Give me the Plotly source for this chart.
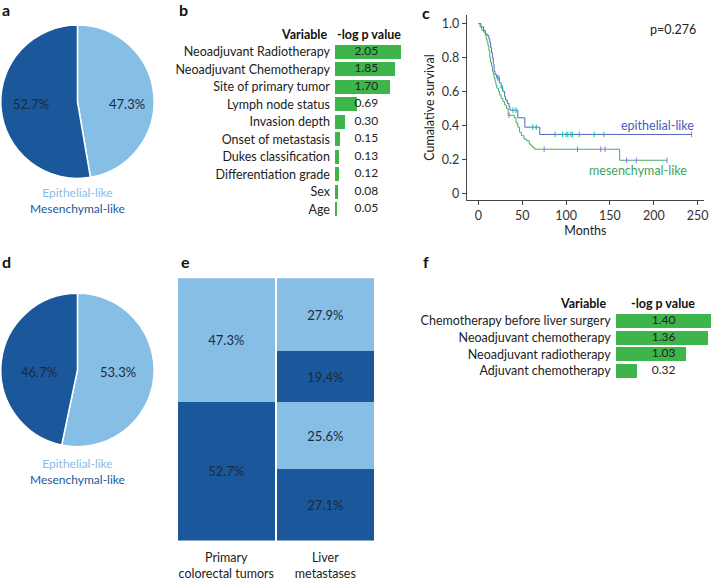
import plotly.graph_objects as go

W, H = 718, 581
def X(px):
    return px / W
def Y(py):
    return 1 - py / H

FONT = "Lato"
LIGHT = "#86BEE6"
DARK = "#1A579B"
TXT = "#1d2b3c"
GREEN = "#3DB54A"
BLUE_KM = "#5467c0"
GREEN_KM = "#43b063"

# ---------------- data ----------------
pie_labels = ["Epithelial-like", "Mesenchymal-like"]
pie_a_values = [47.3, 52.7]
pie_d_values = [53.3, 46.7]

b_vars = ["Neoadjuvant Radiotherapy", "Neoadjuvant Chemotherapy", "Site of primary tumor",
          "Lymph node status", "Invasion depth", "Onset of metastasis", "Dukes classification",
          "Differentiation grade", "Sex", "Age"]
b_vals = [2.05, 1.85, 1.70, 0.69, 0.30, 0.15, 0.13, 0.12, 0.08, 0.05]

f_vars = ["Chemotherapy before liver surgery", "Neoadjuvant chemotherapy",
          "Neoadjuvant radiotherapy", "Adjuvant chemotherapy"]
f_vals = [1.40, 1.36, 1.03, 0.32]

e_groups = ["Primary<br>colorectal tumors", "Liver<br>metastases"]
# stacked segments, bottom to top
e_seg_values = [[52.7, 27.1], [47.3, 25.6], [None, 19.4], [None, 27.9]]
e_seg_kind = ["Mesenchymal-like", "Epithelial-like", "Mesenchymal-like", "Epithelial-like"]

epi_t = [0, 3, 6, 8, 10, 12, 13, 14, 15, 16, 17, 18, 19, 21, 24, 26, 28, 30, 31, 33, 35, 36, 45, 53, 70, 243]
epi_s = [1.0, 0.98, 0.96, 0.94, 0.93, 0.91, 0.89, 0.86, 0.83, 0.80, 0.76, 0.72, 0.70, 0.68, 0.65, 0.62,
         0.60, 0.57, 0.55, 0.53, 0.51, 0.49, 0.445, 0.39, 0.347, 0.347]
epi_cens_t = [22, 23.5, 27.5, 39.5, 43, 62, 66, 87.5, 96, 100, 102, 105.5, 107, 115, 132, 143, 243]
epi_cens_s = [0.68, 0.68, 0.62, 0.49, 0.49, 0.39, 0.39, 0.347, 0.347, 0.347, 0.347, 0.347, 0.347,
              0.347, 0.347, 0.347, 0.347]

mes_t = [0, 2, 4, 6, 8, 9, 10, 11, 12, 13, 14, 15, 16, 17, 18, 19, 20, 21, 23, 24, 26, 28, 30, 32, 34,
         41, 43, 45, 47, 49, 52, 55, 58, 60, 62, 64, 161, 215]
mes_s = [1.0, 0.98, 0.96, 0.95, 0.93, 0.91, 0.89, 0.87, 0.84, 0.80, 0.77, 0.75, 0.72, 0.70, 0.68, 0.66,
         0.64, 0.62, 0.60, 0.58, 0.56, 0.54, 0.52, 0.50, 0.46, 0.445, 0.415, 0.39, 0.36, 0.34, 0.32,
         0.31, 0.29, 0.28, 0.27, 0.26, 0.195, 0.195]
mes_cens_t = [35, 75, 113, 139.5, 144.4, 169, 180, 215]
mes_cens_s = [0.46, 0.26, 0.26, 0.26, 0.26, 0.195, 0.195, 0.195]

km_xticks = [0, 50, 100, 150, 200, 250]
km_yticks = [0, 0.2, 0.4, 0.6, 0.8, 1.0]
km_yticktext = ["0", "0.2", "0.4", "0.6", "0.8", "1.0"]

color_of = {"Epithelial-like": LIGHT, "Mesenchymal-like": DARK}

fig = go.Figure()

ann = []
def add(text, x, y, xanchor="center", size=12, color="#222", bold=False, angle=0):
    ann.append(dict(text=f"<b>{text}</b>" if bold else text, x=X(x), y=Y(y), xref="paper", yref="paper",
                    xanchor=xanchor, yanchor="middle", showarrow=False, textangle=angle,
                    font=dict(family=FONT, size=size, color=color)))

# ---------------- pies a & d ----------------
# (domain bottom/top px, label x px for each slice, label y px)
pie_specs = [(pie_a_values, (181.5, 25.5), (128, 31), 106), (pie_d_values, (454.5, 298.5), (119, 39), 379)]
for vals, (y0, y1), lx, ly in pie_specs:
    fig.add_trace(go.Pie(
        labels=pie_labels, values=vals, sort=False, direction="clockwise", rotation=0,
        marker=dict(colors=[LIGHT, DARK], line=dict(color="white", width=1.5)),
        textinfo="none", domain=dict(x=[0, X(156)], y=[Y(y0), Y(y1)]), showlegend=False,
        hoverinfo="label+value",
    ))
    for v, x in zip(vals, lx):
        add(f"{v:.1f}%", x, ly, size=13, color=TXT)

# ---------------- bar b ----------------
fig.add_trace(go.Bar(x=b_vals, y=b_vars, orientation="h", marker=dict(color=GREEN, line=dict(width=0)),
                     width=0.79, xaxis="x2", yaxis="y2", showlegend=False))
fig.add_trace(go.Scatter(x=[0.975] * len(b_vals), y=b_vars, mode="text",
                         text=[f"{v:.2f}" for v in b_vals], textfont=dict(family=FONT, size=12, color="#222"),
                         xaxis="x2", yaxis="y2", showlegend=False, hoverinfo="skip"))

# ---------------- bar f ----------------
fig.add_trace(go.Bar(x=f_vals, y=f_vars, orientation="h", marker=dict(color=GREEN, line=dict(width=0)),
                     width=0.83, xaxis="x4", yaxis="y4", showlegend=False))
fig.add_trace(go.Scatter(x=[0.704] * len(f_vals), y=f_vars, mode="text",
                         text=[f"{v:.2f}" for v in f_vals], textfont=dict(family=FONT, size=12, color="#222"),
                         xaxis="x4", yaxis="y4", showlegend=False, hoverinfo="skip"))

# ---------------- mosaic e ----------------
for vals, kind in zip(e_seg_values, e_seg_kind):
    fig.add_trace(go.Bar(
        x=e_groups, y=vals, marker=dict(color=color_of[kind], line=dict(width=0)), width=0.985,
        texttemplate="%{y:.1f}%", textposition="inside", insidetextanchor="middle", textangle=0,
        textfont=dict(family=FONT, size=13, color=TXT), xaxis="x5", yaxis="y5", showlegend=False,
        name=kind,
    ))

# ---------------- KM c ----------------
fig.add_trace(go.Scatter(x=epi_t, y=epi_s, mode="lines", line=dict(color=BLUE_KM, width=1, shape="hv"),
                         xaxis="x3", yaxis="y3", showlegend=False, name="epithelial-like"))
fig.add_trace(go.Scatter(x=mes_t, y=mes_s, mode="lines", line=dict(color=GREEN_KM, width=1, shape="hv"),
                         xaxis="x3", yaxis="y3", showlegend=False, name="mesenchymal-like"))
fig.add_trace(go.Scatter(x=epi_cens_t, y=epi_cens_s, mode="markers",
                         marker=dict(symbol="line-ns-open", size=4, line=dict(color=BLUE_KM, width=1)),
                         xaxis="x3", yaxis="y3", showlegend=False, hoverinfo="skip"))
fig.add_trace(go.Scatter(x=mes_cens_t, y=mes_cens_s, mode="markers",
                         marker=dict(symbol="line-ns-open", size=4, line=dict(color=GREEN_KM, width=1)),
                         xaxis="x3", yaxis="y3", showlegend=False, hoverinfo="skip"))

tickfont = dict(family=FONT, size=12.5, color="#333")

fig.update_layout(
    width=W, height=H, margin=dict(l=0, r=0, t=0, b=0),
    paper_bgcolor="white", plot_bgcolor="white", barmode="stack",
    font=dict(family=FONT, size=12, color="#222"),
    # b
    xaxis2=dict(domain=[X(337.3), X(337.3 + 2.1 * 32.5)], range=[0, 2.1], visible=False, anchor="y2"),
    yaxis2=dict(domain=[Y(221.8), Y(43.8)], type="category", autorange="reversed", anchor="x2",
                showline=False, ticks="", showgrid=False, tickfont=dict(family=FONT, size=12.5, color="#222"),
                ticklabelstandoff=4),
    # f
    xaxis4=dict(domain=[X(620), 1], range=[0, 1.4286], visible=False, anchor="y4"),
    yaxis4=dict(domain=[Y(385.8), Y(318.2)], type="category", autorange="reversed", anchor="x4",
                showline=False, ticks="", showgrid=False, tickfont=dict(family=FONT, size=12.5, color="#222"),
                ticklabelstandoff=4),
    # e
    xaxis5=dict(domain=[X(178), X(377.5)], anchor="y5", showline=False, ticks="", showgrid=False,
                tickfont=dict(family=FONT, size=12.5, color="#222"), ticklabelstandoff=8),
    yaxis5=dict(domain=[Y(550), Y(283)], range=[0, 100], visible=False, anchor="x5"),
    # c
    xaxis3=dict(domain=[X(470), X(709)], range=[-13.2, 257.2], anchor="y3", tickvals=km_xticks,
                ticks="outside", ticklen=4, tickcolor="#444", showline=True, linecolor="#444", linewidth=1,
                showgrid=False, zeroline=False, tickfont=tickfont,
                title=dict(text="Months", font=dict(family=FONT, size=12.5, color="#222"), standoff=2)),
    yaxis3=dict(domain=[Y(204), Y(15)], range=[-0.042, 1.052], anchor="x3", tickvals=km_yticks,
                ticktext=km_yticktext, ticks="outside", ticklen=4, tickcolor="#444", showline=True,
                linecolor="#444", linewidth=1, showgrid=False, zeroline=False, tickfont=tickfont,
                title=dict(text="Cumalative survival", font=dict(family=FONT, size=12.5, color="#222"),
                           standoff=4)),
)

# panel letters
for letter, x, y in [("a", 0, 10), ("b", 178, 10), ("c", 423, 13), ("d", 0, 266), ("e", 180, 266), ("f", 424, 266)]:
    add(letter, x, y, xanchor="left", size=16, color="#111", bold=True)

# pie labels (two coloured lines in one block)
pie_legend = (f"<span style='color:{LIGHT}'>{pie_labels[0]}</span><br>"
              f"<span style='color:{DARK}'>{pie_labels[1]}</span>")
add(pie_legend, 78, 204.5, size=12)
add(pie_legend, 78, 480, size=12)

# headers
add("Variable", 331, 35, xanchor="right", size=12.5, bold=True, color="#111")
add("-log p value", 371.3, 35, size=12.5, bold=True, color="#111")
add("Variable", 612.7, 309, xanchor="right", size=12.5, bold=True, color="#111")
add("-log p value", 668, 309, size=12.5, bold=True, color="#111")

# KM annotations
add("p=0.276", 678, 30, size=12.5)
add("epithelial-like", 623, 128, xanchor="left", size=12.5, color="#4a5bb8")
add("mesenchymal-like", 591, 173, xanchor="left", size=12.5, color="#3aa65c")

fig.update_layout(annotations=ann)
fig.write_html("out.html", config={"displayModeBar": False},
               post_script="document.body.style.margin='0';document.body.style.overflow='hidden';")
